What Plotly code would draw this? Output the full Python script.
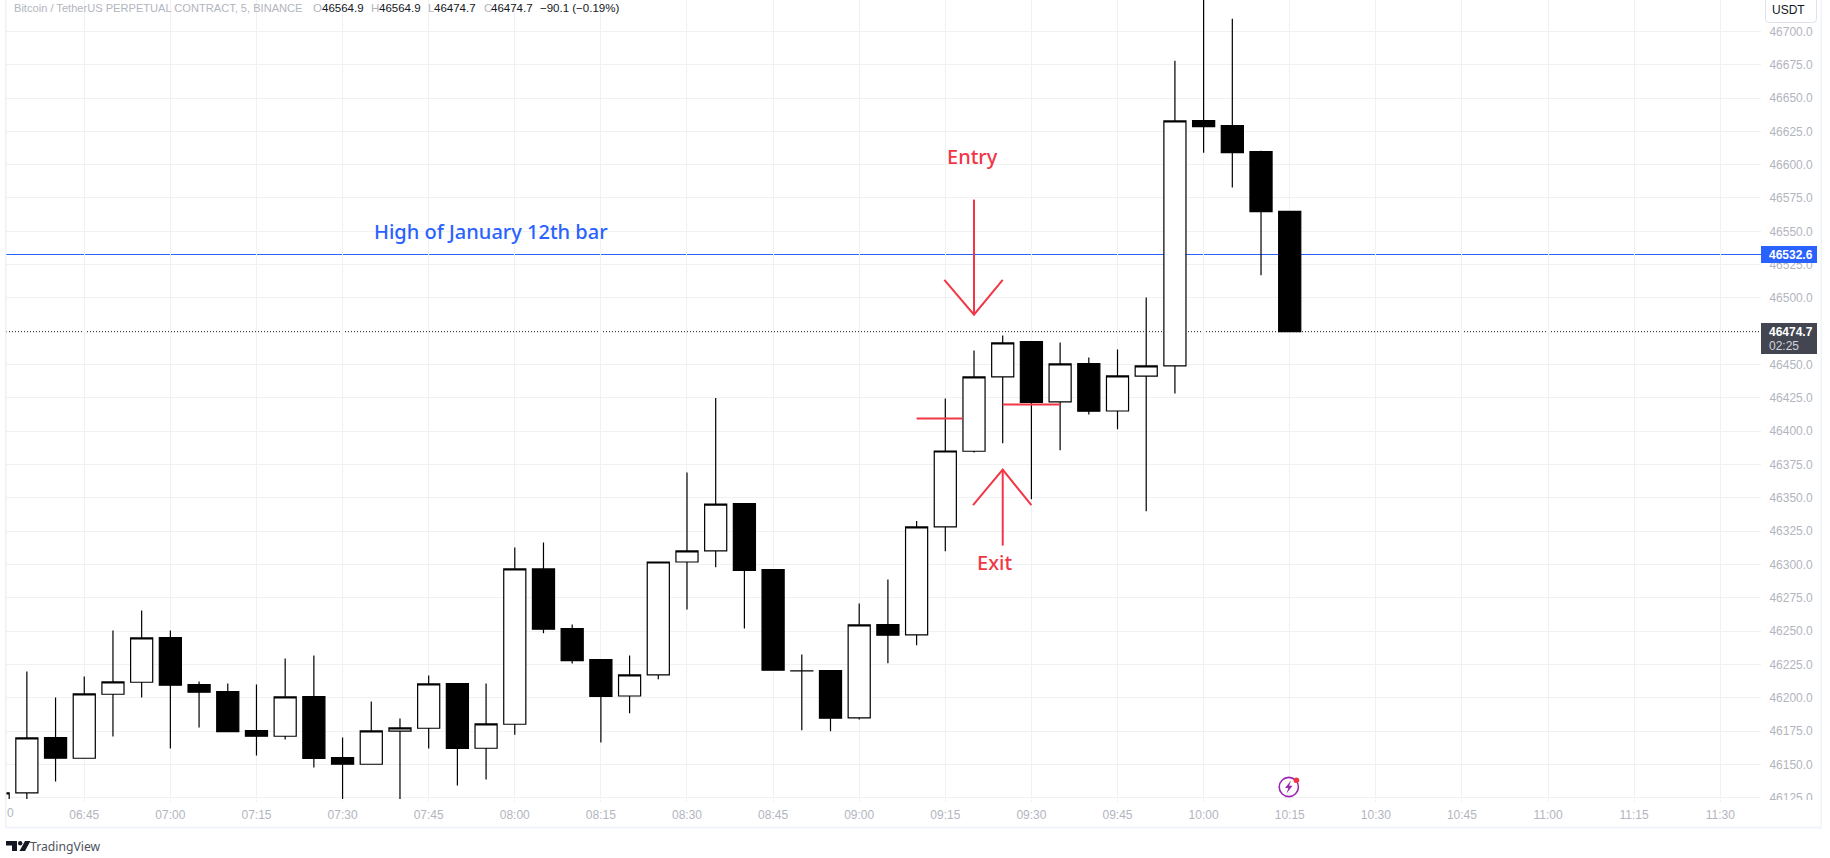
import plotly.graph_objects as go

# 5 minute bars
times = ["06:30", "06:35", "06:40", "06:45", "06:50", "06:55", "07:00", "07:05", "07:10", "07:15",
         "07:20", "07:25", "07:30", "07:35", "07:40", "07:45", "07:50", "07:55", "08:00", "08:05",
         "08:10", "08:15", "08:20", "08:25", "08:30", "08:35", "08:40", "08:45", "08:50", "08:55",
         "09:00", "09:05", "09:10", "09:15", "09:20", "09:25", "09:30", "09:35", "09:40", "09:45",
         "09:50", "09:55", "10:00", "10:05", "10:10", "10:15"]
opens = [46105.0, 46128.7, 46170.2, 46154.7, 46202.7, 46211.7, 46245.2, 46210.0, 46204.7, 46175.5,
         46171.2, 46201.0, 46155.2, 46150.2, 46175.0, 46177.2, 46210.7, 46162.2, 46180.2, 46296.7,
         46252.0, 46228.7, 46201.4, 46217.2, 46301.9, 46310.2, 46345.7, 46296.2, 46220.2, 46220.5,
         46185.0, 46255.0, 46247.2, 46328.2, 46385.0, 46440.8, 46467.3, 46422.0, 46450.8, 46415.2,
         46441.3, 46449.0, 46633.0, 46629.3, 46609.8, 46564.9]
highs = [46128.7, 46219.7, 46200.2, 46216.0, 46250.5, 46265.5, 46250.5, 46212.2, 46210.7, 46210.0,
         46229.5, 46231.7, 46170.2, 46197.2, 46184.5, 46216.7, 46210.7, 46210.7, 46312.7, 46316.5,
         46255.0, 46228.7, 46231.7, 46301.9, 46369.0, 46425.0, 46345.7, 46296.2, 46232.5, 46220.5,
         46270.7, 46288.7, 46332.7, 46424.5, 46460.5, 46471.8, 46467.3, 46466.5, 46455.3, 46461.3,
         46500.3, 46678.0, 46730.0, 46709.5, 46610.5, 46564.9]
lows = [46100.0, 46120.0, 46137.2, 46154.7, 46171.0, 46200.2, 46162.0, 46177.7, 46174.7, 46156.7,
        46168.7, 46147.7, 46120.0, 46150.2, 46120.0, 46162.0, 46134.2, 46138.7, 46172.4, 46248.4,
        46225.7, 46166.5, 46188.5, 46214.0, 46266.2, 46298.0, 46252.0, 46220.7, 46175.7, 46175.0,
        46183.7, 46226.0, 46239.5, 46310.0, 46384.0, 46391.0, 46349.0, 46385.7, 46412.5, 46401.5,
        46340.0, 46428.3, 46609.0, 46582.8, 46517.0, 46474.7]
closes = [46128.7, 46170.0, 46154.7, 46203.0, 46212.0, 46245.0, 46209.5, 46204.2, 46174.7, 46171.2,
          46200.7, 46154.5, 46150.2, 46175.2, 46177.5, 46210.5, 46162.0, 46180.5, 46296.7, 46251.5,
          46228.0, 46201.0, 46217.2, 46301.9, 46310.2, 46345.4, 46295.7, 46220.7, 46220.3, 46184.7,
          46254.7, 46247.0, 46328.2, 46385.2, 46440.8, 46466.3, 46421.7, 46450.5, 46415.0, 46441.5,
          46449.0, 46632.8, 46628.5, 46609.0, 46564.8, 46474.7]

x_ticks = ["06:45", "07:00", "07:15", "07:30", "07:45", "08:00", "08:15", "08:30", "08:45", "09:00",
           "09:15", "09:30", "09:45", "10:00", "10:15", "10:30", "10:45", "11:00", "11:15", "11:30"]
y_ticks = [46125, 46150, 46175, 46200, 46225, 46250, 46275, 46300, 46325, 46350, 46375, 46400,
           46425, 46450, 46500, 46525, 46550, 46575, 46600, 46625, 46650, 46675, 46700]

high_line = 46532.6
last_price = 46474.7

# hand drawn marks on the chart, None breaks the line
entry_x = ["09:20", "09:20", None, "09:14:50", "09:20", "09:25"]
entry_y = [46573.8, 46487.5, None, 46513.5, 46487.5, 46513.5]
exit_x = ["09:25", "09:25", None, "09:19:50", "09:25", "09:30"]
exit_y = [46314.2, 46371.2, None, 46344.5, 46371.2, 46344.5]
stop_x = ["09:10", "09:18", None, "09:25", "09:35"]
stop_y = [46409.5, 46409.5, None, 46420.0, 46420.0]

DAY = "2022-01-13 "
RED = "#f23645"
BLUE = "#2962ff"
GREY = "#b2b5be"
GRID = "#f0f1f3"
FONT = "Liberation Sans"


def stamp(values):
    return [None if v is None else DAY + v for v in values]


def px(x):
    return (x - 6) / 1755


def py(y):
    return 1 - y / 799


def label(text, x, y, color=GREY, size=11.5, anchor="left", font=FONT, weight=None):
    fig.add_annotation(text=text, xref="paper", yref="paper", x=px(x), y=py(y), xanchor=anchor,
                       yanchor="middle", showarrow=False, borderpad=0, borderwidth=0,
                       font=dict(family=font, size=size, color=color, weight=weight))


def box(x0, y0, x1, y1, fill, line=None):
    fig.add_shape(type="rect", xref="paper", yref="paper", x0=px(x0), y0=py(y0), x1=px(x1), y1=py(y1),
                  fillcolor=fill, line=dict(color=line or fill, width=1 if line else 0), layer="above")


def poly(points, fill):
    path = "M " + " L ".join(f"{px(a)},{py(b)}" for a, b in points) + " Z"
    fig.add_shape(type="path", xref="paper", yref="paper", path=path, fillcolor=fill,
                  line=dict(width=0), layer="above")


def circle(cx, cy, r, fill="rgba(0,0,0,0)", line=None, width=0):
    fig.add_shape(type="circle", xref="paper", yref="paper", x0=px(cx - r), x1=px(cx + r),
                  y0=py(cy - r), y1=py(cy + r), fillcolor=fill,
                  line=dict(color=line or fill, width=width), layer="above")


fig = go.Figure()
fig.add_trace(go.Candlestick(
    x=stamp(times), open=opens, high=highs, low=lows, close=closes,
    increasing=dict(fillcolor="#ffffff", line=dict(color="#000000", width=1.2)),
    decreasing=dict(fillcolor="#000000", line=dict(color="#000000", width=1.2)),
    whiskerwidth=0, hoverinfo="skip", showlegend=False))
for xs, ys in [(entry_x, entry_y), (exit_x, exit_y), (stop_x, stop_y)]:
    fig.add_trace(go.Scatter(x=stamp(xs), y=ys, mode="lines", line=dict(color=RED, width=2),
                             hoverinfo="skip", showlegend=False))

fig.add_hline(y=high_line, line=dict(color=BLUE, width=1), layer="below")
fig.add_hline(y=last_price, line=dict(color="#131722", width=1, dash="1px,2px"), layer="below")

fig.update_layout(
    width=1830, height=858, autosize=False, margin=dict(l=6, r=69, t=0, b=59),
    paper_bgcolor="#ffffff", plot_bgcolor="#ffffff", boxgap=0.23, boxgroupgap=0, dragmode=False,
    font=dict(family=FONT, size=12, color=GREY))
fig.update_xaxes(
    type="date", range=[DAY + "06:31:22", DAY + "11:37:06"], rangeslider=dict(visible=False),
    tickmode="array", tickvals=stamp(x_ticks), ticktext=x_ticks, showgrid=True, gridcolor=GRID,
    gridwidth=1, ticks="outside", ticklen=2, tickcolor=GRID, zeroline=False, showline=False,
    ticklabelstandoff=3, tickfont=dict(family=FONT, size=12, color=GREY))
fig.update_yaxes(
    side="right", range=[46124.12, 46723.52], tickmode="array", tickvals=y_ticks,
    ticktext=[f"{v:.1f}" for v in y_ticks], showgrid=True, gridcolor=GRID, gridwidth=1,
    ticks="outside", ticklen=5, tickcolor="#ffffff", zeroline=False, showline=False,
    tickfont=dict(family=FONT, size=12, color=GREY))

# clip the lowest price label and draw the panel frame
box(1762, 800, 1820, 806, "#ffffff")
box(5, 0, 6.5, 827, "#eff0f3")
box(5, 826.5, 1822, 828.5, "#f0f3fa")
box(1820.5, 0, 1822, 828.5, "#f0f3fa")

# price labels
box(1761, 246, 1817, 263, BLUE)
box(1761, 323, 1817, 354, "#434651")
fig.add_shape(type="path", xref="paper", yref="paper", layer="above", fillcolor="#ffffff",
              line=dict(color="#e0e3eb", width=1),
              path=f"M {px(1765.5)},{py(-2)} L {px(1765.5)},{py(19)} Q {px(1765.5)},{py(22.5)} {px(1769)},{py(22.5)} "
                   f"L {px(1813)},{py(22.5)} Q {px(1816.5)},{py(22.5)} {px(1816.5)},{py(19)} L {px(1816.5)},{py(-2)} Z")
label("USDT", 1788, 10.5, "#131722", 12, "center")
label("<b>46532.6</b>", 1769, 254.5, "#ffffff", 12)
label("<b>46474.7</b>", 1769, 331.5, "#ffffff", 12)
label("02:25", 1769, 346.5, "#d1d4dc", 12)

# header
label("Bitcoin / TetherUS PERPETUAL CONTRACT, 5, BINANCE", 14, 8, GREY, 11.1)
for text, x, color in [("O", 313, GREY), ("46564.9", 322, "#131722"), ("H", 371, GREY), ("46564.9", 379, "#131722"),
                       ("L", 428, GREY), ("46474.7", 434, "#131722"), ("C", 484, GREY), ("46474.7", 491, "#131722"),
                       ("−90.1 (−0.19%)", 540, "#131722")]:
    label(text, x, 8, color)

# chart notes
label("High of January 12th bar", 490.5, 232, BLUE, 20, "center", "Noto Sans", 500)
label("Entry", 973, 156.5, RED, 20, "center", "Noto Sans", 500)
label("Exit", 995, 562.5, RED, 20, "center", "Noto Sans", 500)

# clipped 06:30 label on the left edge
label("0", 7, 813, GREY, 12)

# TradingView logo
poly([(6, 841), (17, 841), (17, 851), (12, 851), (12, 845.5), (6, 845.5)], "#131722")
circle(20.2, 843.3, 2.2, "#131722")
poly([(25, 841), (30.5, 841), (25, 851), (19.5, 851)], "#131722")
label("TradingView", 30, 846, "#50535e", 12.2, "left", "Noto Sans")

# lightning button
circle(1288.8, 787, 9.6, line="#9c27b0", width=1.6)
poly([(1291, 780.5), (1285, 788), (1288.3, 788), (1286.5, 793.5), (1292.5, 785.8), (1289.2, 785.8)], "#9c27b0")
circle(1296.4, 780.3, 2.8, RED)

fig.write_html("out.html", config=dict(displayModeBar=False),
               post_script="document.body.style.margin='0';document.body.style.overflow='hidden';")
